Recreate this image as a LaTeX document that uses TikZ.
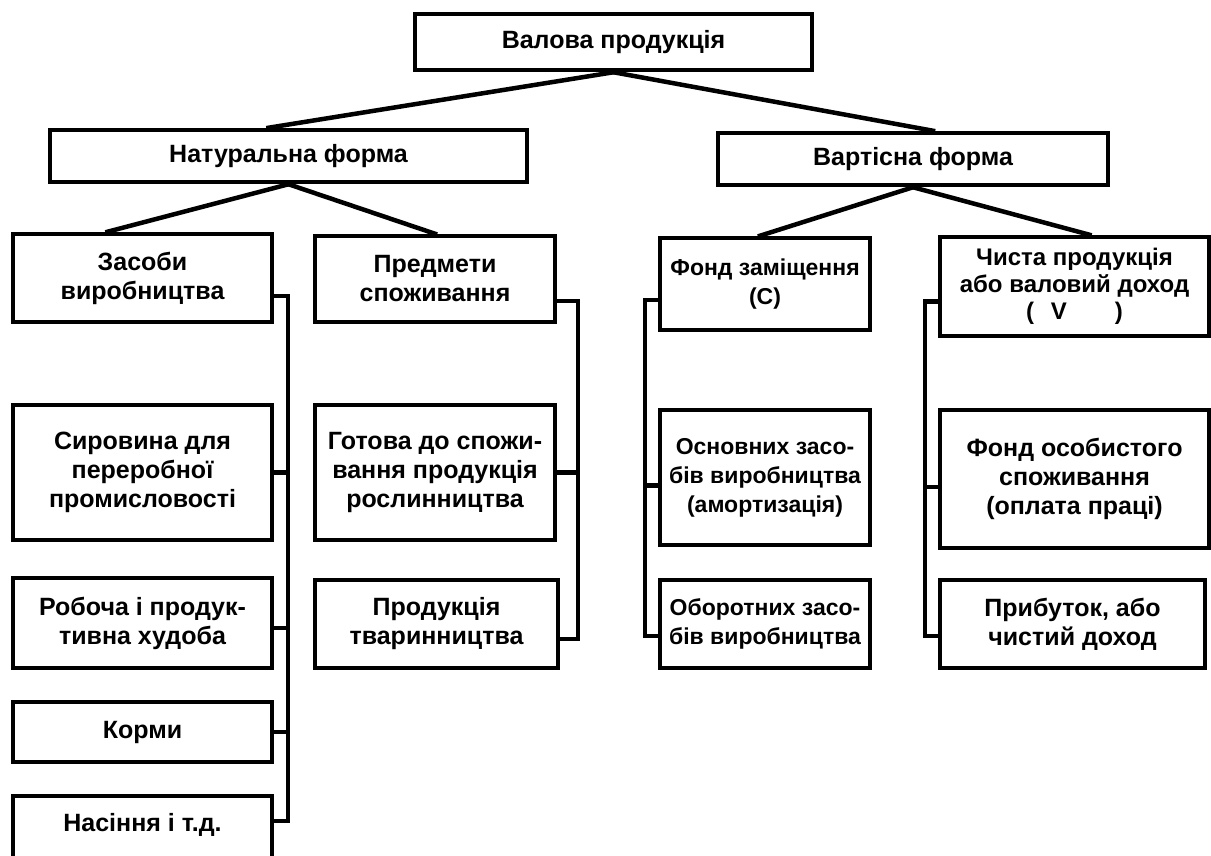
\documentclass[tikz,border=0pt]{standalone}
\usepackage{fontspec}
\setmainfont{Liberation Sans}
\begin{document}
\begin{tikzpicture}[x=1pt,y=-1pt,
  box/.style={draw, line width=4.5pt, align=center, inner sep=0pt,
    font=\bfseries\fontsize{25}{29}\selectfont},
  narrow/.style={font=\bfseries\fontsize{23}{29}\selectfont},
  link/.style={line width=4.5pt, line cap=rect, line join=miter}]
\clip (0,0) rectangle (1211,856);
\fill[white] (0,0) rectangle (1211,856);
\newcommand\boxat[7][]{%
  \node[box, #1, minimum width={(#5-#3)*1pt}, minimum height={(#6-#4)*1pt}]
    (#2) at ({(#3+#5)/2},{(#4+#6)/2}) {#7};}
% level 0
\boxat{val}{415}{14}{812}{70}{Валова продукція}
% level 1
\boxat{nat}{50}{130}{527}{182}{Натуральна форма}
\boxat{vart}{718}{133}{1108}{185}{Вартісна форма}
% level 2
\boxat{zas}{13}{234}{272}{322}{Засоби\\виробництва}
\boxat{pred}{315}{236}{555}{322}{Предмети\\споживання}
\boxat[narrow]{fz}{660}{238}{870}{330}{Фонд заміщення\\(С)}
\boxat[font=\bfseries\fontsize{24}{27}\selectfont]{chy}{940}{237}{1209}{336}{Чиста продукція\\або валовий доход\\(\hspace{0.7em}V\hspace{2em})}
% left column
\boxat{sir}{13}{405}{272}{540}{Сировина для\\переробної\\промисловості}
\boxat{rob}{13}{578}{272}{668}{Робоча і продук-\\тивна худоба}
\boxat{kor}{13}{702}{272}{762}{Корми}
\boxat{nas}{13}{796}{272}{886}{Насіння і т.д.\\\strut}
% second column
\boxat{got}{315}{405}{555}{540}{Готова до спожи-\\вання продукція\\рослинництва}
\boxat{tva}{315}{580}{558}{668}{Продукція\\тваринництва}
% third column
\boxat[narrow]{osn}{660}{410}{870}{545}{Основних засо-\\бів виробництва\\(амортизація)}
\boxat[narrow]{obo}{660}{580}{870}{668}{Оборотних засо-\\бів виробництва}
% fourth column
\boxat{osob}{940}{410}{1209}{548}{Фонд особистого\\споживання\\(оплата праці)}
\boxat{prib}{940}{580}{1205}{668}{Прибуток, або\\чистий доход}
% tree links
\draw[link] (val.south) -- ([xshift=-20pt]nat.north);
\draw[link] (val.south) -- ([xshift=20pt]vart.north);
\draw[link] (nat.south) -- ([xshift=-35pt]zas.north);
\draw[link] (nat.south) -- (pred.north);
\draw[link] (vart.south) -- ([xshift=-5pt]fz.north);
\draw[link] (vart.south) -- ([xshift=15pt]chy.north);
% bracket coordinates
\coordinate (bA) at (288,0);
\coordinate (bB) at (578,0);
\coordinate (bC) at (645,0);
\coordinate (bD) at (925,0);
% left column bracket
\draw[link] ([yshift=-18pt]zas.east) -| ([yshift=20pt]nas.east -| bA) -- ([yshift=20pt]nas.east);
\draw[link] (sir.east) -- (sir.east -| bA);
\draw[link] ([yshift=-5pt]rob.east) -- ([yshift=-5pt]rob.east -| bA);
\draw[link] (kor.east) -- (kor.east -| bA);
% second column bracket
\draw[link] ([yshift=-22pt]pred.east) -| ([yshift=-15pt]tva.east -| bB) -- ([yshift=-15pt]tva.east);
\draw[link] (got.east) -- (got.east -| bB);
% third column bracket
\draw[link] ([yshift=-16pt]fz.west) -| ([yshift=-12pt]obo.west -| bC) -- ([yshift=-12pt]obo.west);
\draw[link] ([yshift=-8pt]osn.west) -- ([yshift=-8pt]osn.west -| bC);
% fourth column bracket
\draw[link] ([yshift=-15pt]chy.west) -| ([yshift=-12pt]prib.west -| bD) -- ([yshift=-12pt]prib.west);
\draw[link] ([yshift=-8pt]osob.west) -- ([yshift=-8pt]osob.west -| bD);
\end{tikzpicture}
\end{document}
